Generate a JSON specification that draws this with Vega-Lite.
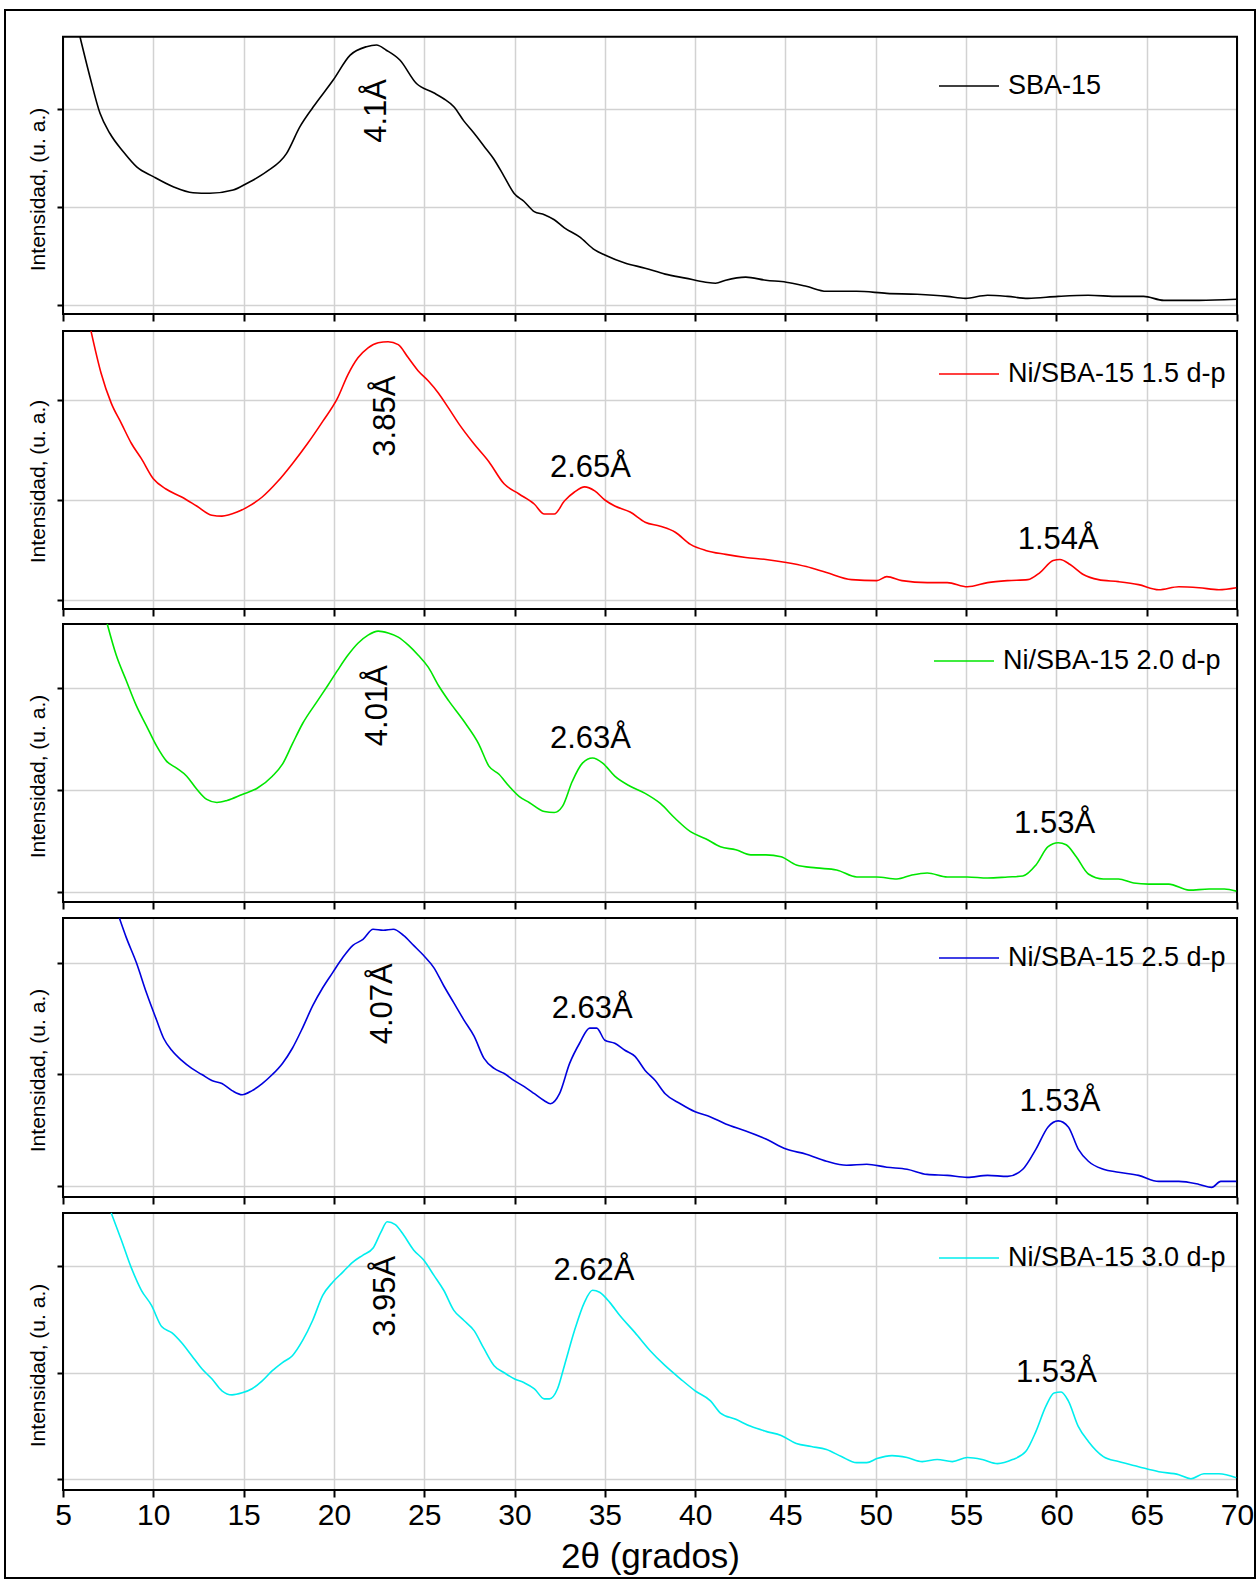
{
  "$schema": "https://vega.github.io/schema/vega-lite/v6.json",
  "width": 1250,
  "height": 1568,
  "autosize": {"type": "none"},
  "padding": {"left": 5, "top": 10, "right": 2, "bottom": 2},
  "background": "white",
  "config": {
    "font": "Liberation Sans",
    "view": {"stroke": "black", "strokeWidth": 2},
    "axis": {
      "labelFont": "Liberation Sans",
      "titleFont": "Liberation Sans",
      "titleFontWeight": "normal",
      "labelColor": "black",
      "titleColor": "black",
      "tickColor": "black",
      "gridColor": "#d2d2d2",
      "gridWidth": 1.5
    },
    "legend": {"labelFont": "Liberation Sans", "labelColor": "black", "labelLimit": 0},
    "line": {"interpolate": "monotone"}
  },
  "datasets": {
    "sba15": [
      {"theta": 5.94, "intensidad": 273.8}, {"theta": 6.49, "intensidad": 233}, {"theta": 7.05, "intensidad": 195.6},
      {"theta": 7.6, "intensidad": 175}, {"theta": 8.34, "intensidad": 156.4}, {"theta": 9.08, "intensidad": 141},
      {"theta": 10.0, "intensidad": 131}, {"theta": 11.1, "intensidad": 120.7}, {"theta": 12.2, "intensidad": 114.6},
      {"theta": 13.13, "intensidad": 114}, {"theta": 14.42, "intensidad": 117.3}, {"theta": 15.17, "intensidad": 124},
      {"theta": 16.27, "intensidad": 136}, {"theta": 17.38, "intensidad": 154.8}, {"theta": 18.12, "intensidad": 182},
      {"theta": 18.85, "intensidad": 202}, {"theta": 19.96, "intensidad": 229.6}, {"theta": 20.9, "intensidad": 255},
      {"theta": 21.8, "intensidad": 263.6}, {"theta": 22.36, "intensidad": 265.3}, {"theta": 22.9, "intensidad": 260},
      {"theta": 23.65, "intensidad": 250}, {"theta": 24.57, "intensidad": 226}, {"theta": 25.52, "intensidad": 216.6},
      {"theta": 26.08, "intensidad": 210.5}, {"theta": 26.64, "intensidad": 202.3}, {"theta": 27.19, "intensidad": 187.9},
      {"theta": 27.75, "intensidad": 175.5}, {"theta": 28.31, "intensidad": 162.1}, {"theta": 28.86, "intensidad": 148.8},
      {"theta": 29.42, "intensidad": 131.3}, {"theta": 29.98, "intensidad": 113.8}, {"theta": 30.53, "intensidad": 105.6},
      {"theta": 31.09, "intensidad": 95.3}, {"theta": 31.65, "intensidad": 92.2}, {"theta": 32.2, "intensidad": 87},
      {"theta": 32.76, "intensidad": 78.8}, {"theta": 33.6, "intensidad": 69.5}, {"theta": 34.44, "intensidad": 56.2},
      {"theta": 35.0, "intensidad": 51}, {"theta": 36.11, "intensidad": 42.8}, {"theta": 37.23, "intensidad": 37.6},
      {"theta": 38.34, "intensidad": 31.5}, {"theta": 39.46, "intensidad": 27.4}, {"theta": 40.58, "intensidad": 23.3},
      {"theta": 41.13, "intensidad": 22.2}, {"theta": 41.69, "intensidad": 25.3}, {"theta": 42.8, "intensidad": 28.4},
      {"theta": 43.92, "intensidad": 25.3}, {"theta": 45.04, "intensidad": 23.3}, {"theta": 46.15, "intensidad": 19.1},
      {"theta": 47.27, "intensidad": 14}, {"theta": 48.94, "intensidad": 14}, {"theta": 50.61, "intensidad": 11.9},
      {"theta": 52.29, "intensidad": 10.9}, {"theta": 53.96, "intensidad": 8.8}, {"theta": 54.96, "intensidad": 6.8},
      {"theta": 56.19, "intensidad": 9.9}, {"theta": 57.3, "intensidad": 8.8}, {"theta": 58.42, "intensidad": 6.8},
      {"theta": 60.09, "intensidad": 8.8}, {"theta": 61.76, "intensidad": 9.9}, {"theta": 63.44, "intensidad": 8.8},
      {"theta": 64.83, "intensidad": 8.8}, {"theta": 65.95, "intensidad": 4.7}, {"theta": 67.9, "intensidad": 4.7},
      {"theta": 69.96, "intensidad": 5.8}
    ],
    "ni15": [
      {"theta": 6.55, "intensidad": 269.3}, {"theta": 7.11, "intensidad": 227}, {"theta": 7.67, "intensidad": 197},
      {"theta": 8.23, "intensidad": 176.8}, {"theta": 8.79, "intensidad": 156.6}, {"theta": 9.34, "intensidad": 141.4},
      {"theta": 10.0, "intensidad": 121.2}, {"theta": 10.7, "intensidad": 111}, {"theta": 11.57, "intensidad": 103},
      {"theta": 12.4, "intensidad": 94}, {"theta": 13.24, "intensidad": 84.8}, {"theta": 13.8, "intensidad": 83.8},
      {"theta": 14.64, "intensidad": 87.9}, {"theta": 15.2, "intensidad": 92.9}, {"theta": 16.03, "intensidad": 103},
      {"theta": 16.87, "intensidad": 118.2}, {"theta": 17.7, "intensidad": 136.4}, {"theta": 18.54, "intensidad": 156.6},
      {"theta": 19.38, "intensidad": 178.8}, {"theta": 20.2, "intensidad": 202}, {"theta": 20.77, "intensidad": 225.3},
      {"theta": 21.33, "intensidad": 242.4}, {"theta": 21.89, "intensidad": 252.5}, {"theta": 22.45, "intensidad": 257.6},
      {"theta": 23.0, "intensidad": 258.6}, {"theta": 23.56, "intensidad": 255.6}, {"theta": 24.12, "intensidad": 242.4},
      {"theta": 24.67, "intensidad": 229.3}, {"theta": 25.23, "intensidad": 219.2}, {"theta": 25.79, "intensidad": 207},
      {"theta": 26.35, "intensidad": 192}, {"theta": 26.9, "intensidad": 176.8}, {"theta": 27.74, "intensidad": 156.6},
      {"theta": 28.58, "intensidad": 138.4}, {"theta": 29.42, "intensidad": 116.2}, {"theta": 30.25, "intensidad": 106},
      {"theta": 31.09, "intensidad": 96}, {"theta": 31.65, "intensidad": 85.9}, {"theta": 32.2, "intensidad": 85.9},
      {"theta": 32.76, "intensidad": 99}, {"theta": 33.32, "intensidad": 108}, {"theta": 33.88, "intensidad": 113.1},
      {"theta": 34.44, "intensidad": 109.1}, {"theta": 35.0, "intensidad": 100}, {"theta": 35.55, "intensidad": 94},
      {"theta": 36.4, "intensidad": 87.9}, {"theta": 37.23, "intensidad": 77.8}, {"theta": 38.07, "intensidad": 73.7},
      {"theta": 38.9, "intensidad": 67.7}, {"theta": 39.74, "intensidad": 55.6}, {"theta": 40.58, "intensidad": 49.5},
      {"theta": 41.69, "intensidad": 45.5}, {"theta": 42.8, "intensidad": 42.4}, {"theta": 43.92, "intensidad": 40.4},
      {"theta": 45.04, "intensidad": 37.4}, {"theta": 46.15, "intensidad": 33.3}, {"theta": 47.27, "intensidad": 27.3},
      {"theta": 48.66, "intensidad": 20.2}, {"theta": 50.06, "intensidad": 19.2}, {"theta": 50.61, "intensidad": 23.2},
      {"theta": 51.45, "intensidad": 19.2}, {"theta": 52.85, "intensidad": 17.2}, {"theta": 53.96, "intensidad": 17.2},
      {"theta": 55.07, "intensidad": 13.1}, {"theta": 56.19, "intensidad": 17.2}, {"theta": 57.3, "intensidad": 19.2},
      {"theta": 58.42, "intensidad": 20.2}, {"theta": 59.09, "intensidad": 27.3}, {"theta": 59.82, "intensidad": 39.4},
      {"theta": 60.2, "intensidad": 40.4}, {"theta": 60.76, "intensidad": 35.4}, {"theta": 61.49, "intensidad": 25.3},
      {"theta": 62.33, "intensidad": 20.2}, {"theta": 63.44, "intensidad": 18.2}, {"theta": 64.55, "intensidad": 15.2},
      {"theta": 65.67, "intensidad": 10.1}, {"theta": 66.78, "intensidad": 13.1}, {"theta": 67.9, "intensidad": 12.1},
      {"theta": 69.0, "intensidad": 10.1}, {"theta": 69.96, "intensidad": 12.1}
    ],
    "ni20": [
      {"theta": 7.45, "intensidad": 262.8}, {"theta": 7.95, "intensidad": 232}, {"theta": 8.5, "intensidad": 207.3},
      {"theta": 9.06, "intensidad": 182.6}, {"theta": 9.62, "intensidad": 162.8}, {"theta": 10.18, "intensidad": 143},
      {"theta": 10.73, "intensidad": 128.1}, {"theta": 11.29, "intensidad": 121.2}, {"theta": 11.85, "intensidad": 113.3},
      {"theta": 12.41, "intensidad": 100.4}, {"theta": 12.96, "intensidad": 90.5}, {"theta": 13.52, "intensidad": 87.5},
      {"theta": 14.08, "intensidad": 89.5}, {"theta": 14.92, "intensidad": 95.4}, {"theta": 15.75, "intensidad": 101.4},
      {"theta": 16.59, "intensidad": 113.3}, {"theta": 17.15, "intensidad": 125.1}, {"theta": 17.7, "intensidad": 145},
      {"theta": 18.26, "intensidad": 164.8}, {"theta": 19.1, "intensidad": 187.5}, {"theta": 19.66, "intensidad": 202.4},
      {"theta": 20.2, "intensidad": 217.2}, {"theta": 20.77, "intensidad": 232}, {"theta": 21.33, "intensidad": 243.9},
      {"theta": 21.89, "intensidad": 251.9}, {"theta": 22.45, "intensidad": 255.8}, {"theta": 23.0, "intensidad": 253.9},
      {"theta": 23.56, "intensidad": 249.9}, {"theta": 24.12, "intensidad": 242}, {"theta": 24.67, "intensidad": 232.1},
      {"theta": 25.23, "intensidad": 220.2}, {"theta": 25.79, "intensidad": 202.4}, {"theta": 26.35, "intensidad": 187.5},
      {"theta": 27.18, "intensidad": 167.7}, {"theta": 28.02, "intensidad": 144.9}, {"theta": 28.58, "intensidad": 123.2},
      {"theta": 29.14, "intensidad": 115.2}, {"theta": 29.7, "intensidad": 103.4}, {"theta": 30.25, "intensidad": 93.5},
      {"theta": 30.81, "intensidad": 87.5}, {"theta": 31.65, "intensidad": 78.6}, {"theta": 32.2, "intensidad": 77.6},
      {"theta": 32.65, "intensidad": 83.6}, {"theta": 33.2, "intensidad": 108.3}, {"theta": 33.76, "intensidad": 126.1},
      {"theta": 34.32, "intensidad": 131.1}, {"theta": 34.88, "intensidad": 126.1}, {"theta": 35.55, "intensidad": 113.3},
      {"theta": 36.4, "intensidad": 103.4}, {"theta": 37.23, "intensidad": 96.4}, {"theta": 38.07, "intensidad": 86.5},
      {"theta": 38.9, "intensidad": 71.7}, {"theta": 39.74, "intensidad": 58.8}, {"theta": 40.58, "intensidad": 51.9},
      {"theta": 41.4, "intensidad": 44}, {"theta": 42.25, "intensidad": 41}, {"theta": 43.08, "intensidad": 36},
      {"theta": 43.92, "intensidad": 36}, {"theta": 44.76, "intensidad": 34.1}, {"theta": 45.6, "intensidad": 26.1},
      {"theta": 46.7, "intensidad": 23.2}, {"theta": 47.83, "intensidad": 21.2}, {"theta": 48.95, "intensidad": 14.3},
      {"theta": 50.06, "intensidad": 14.3}, {"theta": 51.17, "intensidad": 12.3}, {"theta": 52.0, "intensidad": 16.2},
      {"theta": 52.85, "intensidad": 18.2}, {"theta": 53.96, "intensidad": 14.3}, {"theta": 55.07, "intensidad": 14.3},
      {"theta": 56.19, "intensidad": 13.3}, {"theta": 57.3, "intensidad": 14.3}, {"theta": 58.14, "intensidad": 15.2},
      {"theta": 58.87, "intensidad": 26.1}, {"theta": 59.54, "intensidad": 44}, {"theta": 60.1, "intensidad": 47.9},
      {"theta": 60.54, "intensidad": 45.9}, {"theta": 61.1, "intensidad": 34.1}, {"theta": 61.77, "intensidad": 17.2},
      {"theta": 62.6, "intensidad": 12.3}, {"theta": 63.44, "intensidad": 12.3}, {"theta": 64.28, "intensidad": 8.3},
      {"theta": 65.1, "intensidad": 7.3}, {"theta": 66.22, "intensidad": 7.3}, {"theta": 67.34, "intensidad": 1.4},
      {"theta": 68.46, "intensidad": 2.4}, {"theta": 69.3, "intensidad": 2.4}, {"theta": 69.96, "intensidad": 0.4}
    ],
    "ni25": [
      {"theta": 8.12, "intensidad": 240.1}, {"theta": 8.5, "intensidad": 222.7}, {"theta": 9.06, "intensidad": 200.1},
      {"theta": 9.62, "intensidad": 173}, {"theta": 10.18, "intensidad": 148.5}, {"theta": 10.57, "intensidad": 132.2},
      {"theta": 11.02, "intensidad": 121.4}, {"theta": 11.57, "intensidad": 112.3}, {"theta": 12.13, "intensidad": 105.1},
      {"theta": 12.69, "intensidad": 99.6}, {"theta": 13.24, "intensidad": 94.2}, {"theta": 13.8, "intensidad": 91.5},
      {"theta": 14.36, "intensidad": 85.2}, {"theta": 14.92, "intensidad": 81.5}, {"theta": 15.47, "intensidad": 85.2},
      {"theta": 16.03, "intensidad": 91.5}, {"theta": 16.59, "intensidad": 99.6}, {"theta": 17.15, "intensidad": 109.6},
      {"theta": 17.7, "intensidad": 123.2}, {"theta": 18.26, "intensidad": 141.3}, {"theta": 18.82, "intensidad": 161.2},
      {"theta": 19.38, "intensidad": 177.5}, {"theta": 19.93, "intensidad": 191.1}, {"theta": 20.49, "intensidad": 204.6},
      {"theta": 21.05, "intensidad": 215.5}, {"theta": 21.61, "intensidad": 220.9}, {"theta": 22.17, "intensidad": 230},
      {"theta": 22.73, "intensidad": 229.1}, {"theta": 23.29, "intensidad": 230}, {"theta": 23.85, "intensidad": 224.5},
      {"theta": 24.41, "intensidad": 215.5}, {"theta": 24.97, "intensidad": 206.4}, {"theta": 25.53, "intensidad": 195.6},
      {"theta": 26.08, "intensidad": 179.3}, {"theta": 26.64, "intensidad": 163.9}, {"theta": 27.2, "intensidad": 148.5},
      {"theta": 27.76, "intensidad": 134.1}, {"theta": 28.31, "intensidad": 114.1}, {"theta": 28.87, "intensidad": 105.1},
      {"theta": 29.43, "intensidad": 100.5}, {"theta": 29.98, "intensidad": 94.2}, {"theta": 30.54, "intensidad": 88.8},
      {"theta": 31.1, "intensidad": 82.4}, {"theta": 31.65, "intensidad": 76.1}, {"theta": 31.99, "intensidad": 73.4},
      {"theta": 32.49, "intensidad": 82.4}, {"theta": 33.05, "intensidad": 109.6}, {"theta": 33.6, "intensidad": 127.7},
      {"theta": 34.16, "intensidad": 141.3}, {"theta": 34.55, "intensidad": 141.3}, {"theta": 35.0, "intensidad": 130.4},
      {"theta": 35.55, "intensidad": 127.7}, {"theta": 36.11, "intensidad": 121.4}, {"theta": 36.67, "intensidad": 115.9},
      {"theta": 37.23, "intensidad": 103.3}, {"theta": 37.79, "intensidad": 94.2}, {"theta": 38.34, "intensidad": 82.4},
      {"theta": 39.18, "intensidad": 73.4}, {"theta": 40.0, "intensidad": 66.2}, {"theta": 40.85, "intensidad": 61.6},
      {"theta": 41.69, "intensidad": 55.3}, {"theta": 42.8, "intensidad": 49}, {"theta": 43.92, "intensidad": 41.7},
      {"theta": 45.04, "intensidad": 32.7}, {"theta": 46.15, "intensidad": 28.1}, {"theta": 47.27, "intensidad": 21.8},
      {"theta": 48.38, "intensidad": 18.2}, {"theta": 49.5, "intensidad": 19.1}, {"theta": 50.61, "intensidad": 16.4},
      {"theta": 51.73, "intensidad": 14.6}, {"theta": 52.84, "intensidad": 10.0}, {"theta": 53.96, "intensidad": 9.1},
      {"theta": 55.07, "intensidad": 7.3}, {"theta": 56.19, "intensidad": 9.1}, {"theta": 57.3, "intensidad": 8.2},
      {"theta": 58.14, "intensidad": 14.6}, {"theta": 58.87, "intensidad": 32.7}, {"theta": 59.54, "intensidad": 52.6},
      {"theta": 60.1, "intensidad": 58.0}, {"theta": 60.66, "intensidad": 52.6}, {"theta": 61.21, "intensidad": 32.7},
      {"theta": 61.77, "intensidad": 21.8}, {"theta": 62.6, "intensidad": 14.6}, {"theta": 63.44, "intensidad": 11.9},
      {"theta": 64.55, "intensidad": 9.1}, {"theta": 65.67, "intensidad": 3.7}, {"theta": 66.78, "intensidad": 3.7},
      {"theta": 67.9, "intensidad": 1.0}, {"theta": 68.6, "intensidad": -1.7}, {"theta": 69.1, "intensidad": 3.7},
      {"theta": 69.96, "intensidad": 3.7}
    ],
    "ni30": [
      {"theta": 7.67, "intensidad": 250}, {"theta": 8.23, "intensidad": 224.7}, {"theta": 8.79, "intensidad": 198.2},
      {"theta": 9.34, "intensidad": 177.4}, {"theta": 9.9, "intensidad": 163.2}, {"theta": 10.46, "intensidad": 143.3},
      {"theta": 11.02, "intensidad": 137.6}, {"theta": 11.57, "intensidad": 128.1}, {"theta": 12.13, "intensidad": 115.9},
      {"theta": 12.69, "intensidad": 103.6}, {"theta": 13.24, "intensidad": 94.2}, {"theta": 13.8, "intensidad": 82.9},
      {"theta": 14.36, "intensidad": 79.1}, {"theta": 14.92, "intensidad": 81.0}, {"theta": 15.47, "intensidad": 84.8},
      {"theta": 16.03, "intensidad": 92.3}, {"theta": 16.59, "intensidad": 101.8}, {"theta": 17.15, "intensidad": 109.4},
      {"theta": 17.7, "intensidad": 115.9}, {"theta": 18.26, "intensidad": 130.0}, {"theta": 18.82, "intensidad": 149.0},
      {"theta": 19.38, "intensidad": 172.6}, {"theta": 19.93, "intensidad": 185.0}, {"theta": 20.49, "intensidad": 194.4},
      {"theta": 21.05, "intensidad": 203.9}, {"theta": 21.61, "intensidad": 210.5}, {"theta": 22.17, "intensidad": 217.1},
      {"theta": 22.61, "intensidad": 232.3}, {"theta": 22.95, "intensidad": 241.8}, {"theta": 23.4, "intensidad": 239.0},
      {"theta": 23.85, "intensidad": 229.5}, {"theta": 24.41, "intensidad": 215.3}, {"theta": 24.97, "intensidad": 205.8},
      {"theta": 25.53, "intensidad": 191.6}, {"theta": 26.08, "intensidad": 177.4}, {"theta": 26.64, "intensidad": 158.5},
      {"theta": 27.2, "intensidad": 149.0}, {"theta": 27.76, "intensidad": 139.5}, {"theta": 28.31, "intensidad": 122.5},
      {"theta": 28.87, "intensidad": 106.5}, {"theta": 29.43, "intensidad": 99.9}, {"theta": 29.98, "intensidad": 94.2},
      {"theta": 30.54, "intensidad": 90.4}, {"theta": 31.1, "intensidad": 84.8}, {"theta": 31.65, "intensidad": 75.3},
      {"theta": 31.93, "intensidad": 75.3}, {"theta": 32.38, "intensidad": 84.8}, {"theta": 32.76, "intensidad": 106.5},
      {"theta": 33.32, "intensidad": 139.5}, {"theta": 33.87, "intensidad": 166.0}, {"theta": 34.32, "intensidad": 177.4},
      {"theta": 34.71, "intensidad": 175.5}, {"theta": 35.27, "intensidad": 166.0}, {"theta": 35.83, "intensidad": 153.7},
      {"theta": 36.67, "intensidad": 137.6}, {"theta": 37.51, "intensidad": 120.6}, {"theta": 38.34, "intensidad": 106.5},
      {"theta": 39.18, "intensidad": 94.2}, {"theta": 40.0, "intensidad": 82.9}, {"theta": 40.85, "intensidad": 73.5},
      {"theta": 41.4, "intensidad": 62.0}, {"theta": 42.25, "intensidad": 56.1}, {"theta": 43.08, "intensidad": 49.5},
      {"theta": 43.92, "intensidad": 44.8}, {"theta": 44.76, "intensidad": 41.0}, {"theta": 45.6, "intensidad": 33.4},
      {"theta": 46.43, "intensidad": 30.6}, {"theta": 47.27, "intensidad": 27.7}, {"theta": 48.1, "intensidad": 21.1},
      {"theta": 48.94, "intensidad": 15.4}, {"theta": 49.5, "intensidad": 15.4}, {"theta": 50.06, "intensidad": 19.2},
      {"theta": 50.9, "intensidad": 22.0}, {"theta": 51.73, "intensidad": 20.2}, {"theta": 52.57, "intensidad": 16.4},
      {"theta": 53.4, "intensidad": 18.3}, {"theta": 54.24, "intensidad": 16.4}, {"theta": 55.07, "intensidad": 20.2},
      {"theta": 55.9, "intensidad": 18.3}, {"theta": 56.74, "intensidad": 14.5}, {"theta": 57.57, "intensidad": 18.3},
      {"theta": 58.3, "intensidad": 25.8}, {"theta": 58.87, "intensidad": 44.8}, {"theta": 59.42, "intensidad": 68.5},
      {"theta": 59.87, "intensidad": 80.8}, {"theta": 60.26, "intensidad": 81.8}, {"theta": 60.66, "intensidad": 73.5},
      {"theta": 61.21, "intensidad": 49.5}, {"theta": 61.77, "intensidad": 35.3}, {"theta": 62.6, "intensidad": 21.1},
      {"theta": 63.44, "intensidad": 16.4}, {"theta": 64.55, "intensidad": 11.6}, {"theta": 65.67, "intensidad": 6.9},
      {"theta": 66.78, "intensidad": 4.1}, {"theta": 67.45, "intensidad": 0.3}, {"theta": 68.17, "intensidad": 5.0},
      {"theta": 69.0, "intensidad": 5.0}, {"theta": 69.96, "intensidad": 1.2}
    ],
    "picos": [
      {"panel": "p1", "tipo": "halo", "theta": 22.36, "intensidad": 265.3, "label": "4.1Å"},
      {"panel": "p2", "tipo": "halo", "theta": 22.9, "intensidad": 258.6, "label": "3.85Å"},
      {"panel": "p2", "tipo": "Ni", "theta": 34.2, "intensidad": 113.1, "label": "2.65Å"},
      {"panel": "p2", "tipo": "Ni", "theta": 60.1, "intensidad": 40.4, "label": "1.54Å"},
      {"panel": "p3", "tipo": "halo", "theta": 22.45, "intensidad": 255.8, "label": "4.01Å"},
      {"panel": "p3", "tipo": "Ni", "theta": 34.2, "intensidad": 131.1, "label": "2.63Å"},
      {"panel": "p3", "tipo": "Ni", "theta": 59.9, "intensidad": 47.9, "label": "1.53Å"},
      {"panel": "p4", "tipo": "halo", "theta": 22.7, "intensidad": 230, "label": "4.07Å"},
      {"panel": "p4", "tipo": "Ni", "theta": 34.3, "intensidad": 141.3, "label": "2.63Å"},
      {"panel": "p4", "tipo": "Ni", "theta": 60.2, "intensidad": 58.0, "label": "1.53Å"},
      {"panel": "p5", "tipo": "halo", "theta": 22.9, "intensidad": 241.8, "label": "3.95Å"},
      {"panel": "p5", "tipo": "Ni", "theta": 34.4, "intensidad": 177.4, "label": "2.62Å"},
      {"panel": "p5", "tipo": "Ni", "theta": 60.0, "intensidad": 81.8, "label": "1.53Å"}
    ]
  },
  "resolve": {"scale": {"x": "independent", "y": "independent", "color": "independent"}},
  "layer": [
    {
      "data": {"values": [{}]},
      "mark": {"type": "rect", "filled": false, "stroke": "black", "strokeWidth": 2},
      "encoding": {
        "x": {"datum": 5, "type": "quantitative", "scale": {"domain": [5, 70], "range": [58, 1232], "nice": false, "zero": false},
              "axis": {"orient": "top", "values": [5,10,15,20,25,30,35,40,45,50,55,60,65,70], "grid": true, "ticks": false, "labels": false, "domain": false, "title": null}},
        "x2": {"datum": 70},
        "y": {"datum": -9.18, "type": "quantitative", "scale": {"domain": [-9.18, 273.8], "range": [304, 26.7], "nice": false, "zero": false}, "axis": null},
        "y2": {"datum": 273.8}
      }
    },
    {
      "layer": [
        {
          "data": {"name": "sba15"},
          "mark": {"type": "line", "strokeWidth": 1.6},
          "encoding": {
            "x": {"field": "theta", "type": "quantitative", "scale": {"domain": [5, 70], "range": [58, 1232], "nice": false, "zero": false},
                  "axis": {"orient": "bottom", "offset": -1264, "values": [5,10,15,20,25,30,35,40,45,50,55,60,65,70], "grid": false, "domain": false, "tickSize": 7, "tickWidth": 2, "labels": false, "title": null}},
            "y": {"field": "intensidad", "type": "quantitative", "scale": {"domain": [-9.18, 273.8], "range": [304, 26.7], "nice": false, "zero": false},
                  "axis": {"orient": "left", "offset": -58, "values": [0, 100, 200], "grid": true, "domain": false, "tickSize": 6, "tickWidth": 2, "labels": false, "title": "Intensidad, (u. a.)", "titleFontSize": 21, "titlePadding": 8, "titleY": 179}},
            "color": {"datum": "SBA-15", "scale": {"range": ["#000000"]},
                      "legend": {"orient": "none", "legendX": 933, "legendY": 45, "title": null, "symbolType": "stroke", "symbolSize": 3600, "symbolStrokeWidth": 1.6, "labelFontSize": 27, "labelOffset": 8, "padding": 0}}
          }
        },
        {
          "data": {"name": "picos"},
          "transform": [{"filter": "datum.panel == 'p1' && datum.tipo == 'halo'"}],
          "mark": {"type": "text", "angle": 270, "align": "right", "baseline": "middle", "dx": -34, "fontSize": 31, "color": "black"},
          "encoding": {"x": {"field": "theta", "type": "quantitative"}, "y": {"field": "intensidad", "type": "quantitative"}, "text": {"field": "label"}}
        }
      ]
    },
    {
      "data": {"values": [{}]},
      "mark": {"type": "rect", "filled": false, "stroke": "black", "strokeWidth": 2},
      "encoding": {
        "x": {"datum": 5, "type": "quantitative", "scale": {"domain": [5, 70], "range": [58, 1232], "nice": false, "zero": false},
              "axis": {"orient": "top", "values": [5,10,15,20,25,30,35,40,45,50,55,60,65,70], "grid": true, "ticks": false, "labels": false, "domain": false, "title": null}},
        "x2": {"datum": 70},
        "y": {"datum": -9.2, "type": "quantitative", "scale": {"domain": [-9.2, 269.3], "range": [599, 321], "nice": false, "zero": false}, "axis": null},
        "y2": {"datum": 269.3}
      }
    },
    {
      "layer": [
        {
          "data": {"name": "ni15"},
          "mark": {"type": "line", "strokeWidth": 1.6},
          "encoding": {
            "x": {"field": "theta", "type": "quantitative", "scale": {"domain": [5, 70], "range": [58, 1232], "nice": false, "zero": false},
                  "axis": {"orient": "bottom", "offset": -969, "values": [5,10,15,20,25,30,35,40,45,50,55,60,65,70], "grid": false, "domain": false, "tickSize": 7, "tickWidth": 2, "labels": false, "title": null}},
            "y": {"field": "intensidad", "type": "quantitative", "scale": {"domain": [-9.2, 269.3], "range": [599, 321], "nice": false, "zero": false},
                  "axis": {"orient": "left", "offset": -58, "values": [0, 100, 200], "grid": true, "domain": false, "tickSize": 6, "tickWidth": 2, "labels": false, "title": "Intensidad, (u. a.)", "titleFontSize": 21, "titlePadding": 8, "titleY": 471}},
            "color": {"datum": "Ni/SBA-15 1.5 d-p", "scale": {"range": ["#ff0000"]},
                      "legend": {"orient": "none", "legendX": 933, "legendY": 333, "title": null, "symbolType": "stroke", "symbolSize": 3600, "symbolStrokeWidth": 1.6, "labelFontSize": 27, "labelOffset": 8, "padding": 0}}
          }
        },
        {
          "data": {"name": "picos"},
          "transform": [{"filter": "datum.panel == 'p2' && datum.tipo == 'halo'"}],
          "mark": {"type": "text", "angle": 270, "align": "right", "baseline": "middle", "dx": -34, "fontSize": 31, "color": "black"},
          "encoding": {"x": {"field": "theta", "type": "quantitative"}, "y": {"field": "intensidad", "type": "quantitative"}, "text": {"field": "label"}}
        },
        {
          "data": {"name": "picos"},
          "transform": [{"filter": "datum.panel == 'p2' && datum.tipo == 'Ni'"}],
          "mark": {"type": "text", "align": "center", "baseline": "alphabetic", "dy": -10, "fontSize": 31, "color": "black"},
          "encoding": {"x": {"field": "theta", "type": "quantitative"}, "y": {"field": "intensidad", "type": "quantitative"}, "text": {"field": "label"}}
        }
      ]
    },
    {
      "data": {"values": [{}]},
      "mark": {"type": "rect", "filled": false, "stroke": "black", "strokeWidth": 2},
      "encoding": {
        "x": {"datum": 5, "type": "quantitative", "scale": {"domain": [5, 70], "range": [58, 1232], "nice": false, "zero": false},
              "axis": {"orient": "top", "values": [5,10,15,20,25,30,35,40,45,50,55,60,65,70], "grid": true, "ticks": false, "labels": false, "domain": false, "title": null}},
        "x2": {"datum": 70},
        "y": {"datum": -10.3, "type": "quantitative", "scale": {"domain": [-10.3, 262.8], "range": [892, 614], "nice": false, "zero": false}, "axis": null},
        "y2": {"datum": 262.8}
      }
    },
    {
      "layer": [
        {
          "data": {"name": "ni20"},
          "mark": {"type": "line", "strokeWidth": 1.6},
          "encoding": {
            "x": {"field": "theta", "type": "quantitative", "scale": {"domain": [5, 70], "range": [58, 1232], "nice": false, "zero": false},
                  "axis": {"orient": "bottom", "offset": -676, "values": [5,10,15,20,25,30,35,40,45,50,55,60,65,70], "grid": false, "domain": false, "tickSize": 7, "tickWidth": 2, "labels": false, "title": null}},
            "y": {"field": "intensidad", "type": "quantitative", "scale": {"domain": [-10.3, 262.8], "range": [892, 614], "nice": false, "zero": false},
                  "axis": {"orient": "left", "offset": -58, "values": [0, 100, 200], "grid": true, "domain": false, "tickSize": 6, "tickWidth": 2, "labels": false, "title": "Intensidad, (u. a.)", "titleFontSize": 21, "titlePadding": 8, "titleY": 766}},
            "color": {"datum": "Ni/SBA-15 2.0 d-p", "scale": {"range": ["#00e600"]},
                      "legend": {"orient": "none", "legendX": 928, "legendY": 620, "title": null, "symbolType": "stroke", "symbolSize": 3600, "symbolStrokeWidth": 1.6, "labelFontSize": 27, "labelOffset": 8, "padding": 0}}
          }
        },
        {
          "data": {"name": "picos"},
          "transform": [{"filter": "datum.panel == 'p3' && datum.tipo == 'halo'"}],
          "mark": {"type": "text", "angle": 270, "align": "right", "baseline": "middle", "dx": -34, "fontSize": 31, "color": "black"},
          "encoding": {"x": {"field": "theta", "type": "quantitative"}, "y": {"field": "intensidad", "type": "quantitative"}, "text": {"field": "label"}}
        },
        {
          "data": {"name": "picos"},
          "transform": [{"filter": "datum.panel == 'p3' && datum.tipo == 'Ni'"}],
          "mark": {"type": "text", "align": "center", "baseline": "alphabetic", "dy": -10, "fontSize": 31, "color": "black"},
          "encoding": {"x": {"field": "theta", "type": "quantitative"}, "y": {"field": "intensidad", "type": "quantitative"}, "text": {"field": "label"}}
        }
      ]
    },
    {
      "data": {"values": [{}]},
      "mark": {"type": "rect", "filled": false, "stroke": "black", "strokeWidth": 2},
      "encoding": {
        "x": {"datum": 5, "type": "quantitative", "scale": {"domain": [5, 70], "range": [58, 1232], "nice": false, "zero": false},
              "axis": {"orient": "top", "values": [5,10,15,20,25,30,35,40,45,50,55,60,65,70], "grid": true, "ticks": false, "labels": false, "domain": false, "title": null}},
        "x2": {"datum": 70},
        "y": {"datum": -10.3, "type": "quantitative", "scale": {"domain": [-10.3, 240.1], "range": [1187, 908], "nice": false, "zero": false}, "axis": null},
        "y2": {"datum": 240.1}
      }
    },
    {
      "layer": [
        {
          "data": {"name": "ni25"},
          "mark": {"type": "line", "strokeWidth": 1.6},
          "encoding": {
            "x": {"field": "theta", "type": "quantitative", "scale": {"domain": [5, 70], "range": [58, 1232], "nice": false, "zero": false},
                  "axis": {"orient": "bottom", "offset": -381, "values": [5,10,15,20,25,30,35,40,45,50,55,60,65,70], "grid": false, "domain": false, "tickSize": 7, "tickWidth": 2, "labels": false, "title": null}},
            "y": {"field": "intensidad", "type": "quantitative", "scale": {"domain": [-10.3, 240.1], "range": [1187, 908], "nice": false, "zero": false},
                  "axis": {"orient": "left", "offset": -58, "values": [0, 100, 200], "grid": true, "domain": false, "tickSize": 6, "tickWidth": 2, "labels": false, "title": "Intensidad, (u. a.)", "titleFontSize": 21, "titlePadding": 8, "titleY": 1060}},
            "color": {"datum": "Ni/SBA-15 2.5 d-p", "scale": {"range": ["#0000dd"]},
                      "legend": {"orient": "none", "legendX": 933, "legendY": 917, "title": null, "symbolType": "stroke", "symbolSize": 3600, "symbolStrokeWidth": 1.6, "labelFontSize": 27, "labelOffset": 8, "padding": 0}}
          }
        },
        {
          "data": {"name": "picos"},
          "transform": [{"filter": "datum.panel == 'p4' && datum.tipo == 'halo'"}],
          "mark": {"type": "text", "angle": 270, "align": "right", "baseline": "middle", "dx": -34, "fontSize": 31, "color": "black"},
          "encoding": {"x": {"field": "theta", "type": "quantitative"}, "y": {"field": "intensidad", "type": "quantitative"}, "text": {"field": "label"}}
        },
        {
          "data": {"name": "picos"},
          "transform": [{"filter": "datum.panel == 'p4' && datum.tipo == 'Ni'"}],
          "mark": {"type": "text", "align": "center", "baseline": "alphabetic", "dy": -10, "fontSize": 31, "color": "black"},
          "encoding": {"x": {"field": "theta", "type": "quantitative"}, "y": {"field": "intensidad", "type": "quantitative"}, "text": {"field": "label"}}
        }
      ]
    },
    {
      "data": {"values": [{}]},
      "mark": {"type": "rect", "filled": false, "stroke": "black", "strokeWidth": 2},
      "encoding": {
        "x": {"datum": 5, "type": "quantitative", "scale": {"domain": [5, 70], "range": [58, 1232], "nice": false, "zero": false},
              "axis": {"orient": "top", "values": [5,10,15,20,25,30,35,40,45,50,55,60,65,70], "grid": true, "ticks": false, "labels": false, "domain": false, "title": null}},
        "x2": {"datum": 70},
        "y": {"datum": -10.3, "type": "quantitative", "scale": {"domain": [-10.3, 250], "range": [1480, 1203], "nice": false, "zero": false}, "axis": null},
        "y2": {"datum": 250}
      }
    },
    {
      "layer": [
        {
          "data": {"name": "ni30"},
          "mark": {"type": "line", "strokeWidth": 1.6},
          "encoding": {
            "x": {"field": "theta", "type": "quantitative", "scale": {"domain": [5, 70], "range": [58, 1232], "nice": false, "zero": false},
                  "axis": {"orient": "bottom", "offset": -88, "values": [5,10,15,20,25,30,35,40,45,50,55,60,65,70], "grid": false, "domain": false, "tickSize": 7, "tickWidth": 2, "labels": true, "labelFontSize": 30, "labelPadding": 3, "labelFlush": false, "labelOverlap": false, "title": "2θ (grados)", "titleFontSize": 35, "titlePadding": 9}},
            "y": {"field": "intensidad", "type": "quantitative", "scale": {"domain": [-10.3, 250], "range": [1480, 1203], "nice": false, "zero": false},
                  "axis": {"orient": "left", "offset": -58, "values": [0, 100, 200], "grid": true, "domain": false, "tickSize": 6, "tickWidth": 2, "labels": false, "title": "Intensidad, (u. a.)", "titleFontSize": 21, "titlePadding": 8, "titleY": 1355}},
            "color": {"datum": "Ni/SBA-15 3.0 d-p", "scale": {"range": ["#00eeee"]},
                      "legend": {"orient": "none", "legendX": 933, "legendY": 1217, "title": null, "symbolType": "stroke", "symbolSize": 3600, "symbolStrokeWidth": 1.6, "labelFontSize": 27, "labelOffset": 8, "padding": 0}}
          }
        },
        {
          "data": {"name": "picos"},
          "transform": [{"filter": "datum.panel == 'p5' && datum.tipo == 'halo'"}],
          "mark": {"type": "text", "angle": 270, "align": "right", "baseline": "middle", "dx": -34, "fontSize": 31, "color": "black"},
          "encoding": {"x": {"field": "theta", "type": "quantitative"}, "y": {"field": "intensidad", "type": "quantitative"}, "text": {"field": "label"}}
        },
        {
          "data": {"name": "picos"},
          "transform": [{"filter": "datum.panel == 'p5' && datum.tipo == 'Ni'"}],
          "mark": {"type": "text", "align": "center", "baseline": "alphabetic", "dy": -10, "fontSize": 31, "color": "black"},
          "encoding": {"x": {"field": "theta", "type": "quantitative"}, "y": {"field": "intensidad", "type": "quantitative"}, "text": {"field": "label"}}
        }
      ]
    }
  ]
}
